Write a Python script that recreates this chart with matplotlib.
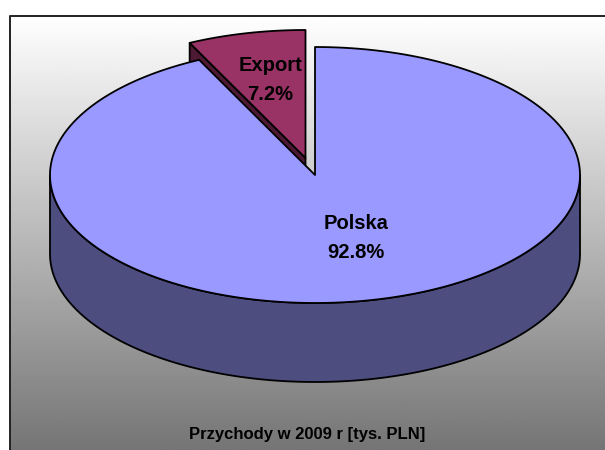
import numpy as np
import matplotlib
matplotlib.use("Agg")
import matplotlib.pyplot as plt

categories = ["Polska", "Export"]
shares = [92.8, 7.2]
title = "Przychody w 2009 r [tys. PLN]"

plt.rcParams["font.family"] = ["Liberation Sans", "DejaVu Sans"]

# pie geometry in pixels
cx, cy = 315, 175
rx, ry = 265, 128
depth = 79
ex_dx, ex_dy = -9.5, -17


def arc(a0, a1, dx=0, dy=0):
    # angles clockwise from 12 o'clock, in degrees
    t = np.radians(np.linspace(a0, a1, 300))
    return cx + dx + rx * np.sin(t), cy + dy - ry * np.cos(t)


fig = plt.figure(figsize=(6.05, 4.5), dpi=100)
ax = fig.add_axes([0, 0, 1, 1])
ax.set_xlim(0, 605)
ax.set_ylim(450, 0)
ax.axis("off")

# frame with grey gradient, open on the right and at the bottom
grad = np.linspace(1, 0.46, 256).reshape(-1, 1)
ax.imshow(grad, extent=[10, 605, 450, 15], cmap="gray", vmin=0, vmax=1, aspect="auto", zorder=1)
ax.plot([10, 10, 605], [450, 15.5, 15.5], color="#222222", lw=1.4, zorder=2)
ax.set_xlim(0, 605)
ax.set_ylim(450, 0)

polska_end = shares[0] / 100 * 360
line = dict(edgecolor="black", linewidth=1.3, joinstyle="round")

# side wall of the big slice (front half only)
x, y = arc(90, 270)
ax.fill(np.r_[x, x[::-1]], np.r_[y, y[::-1] + depth], facecolor="#4D4D80", zorder=3, **line)

# exploded slice: the wall goes behind the big slice
x, y = arc(polska_end, 360, ex_dx, ex_dy)
ex_cx, ex_cy = cx + ex_dx, cy + ex_dy
ax.fill([ex_cx, x[0], x[0], ex_cx], [ex_cy, y[0], y[0] + depth, ex_cy + depth],
        facecolor="#4D1933", zorder=4, **line)
ax.fill(np.r_[ex_cx, x], np.r_[ex_cy, y], facecolor="#993366", zorder=5, **line)

# top of the big slice
x, y = arc(0, polska_end)
ax.fill(np.r_[cx, x], np.r_[cy, y], facecolor="#9999FF", zorder=6, **line)

ax.text(356, 238, f"{categories[0]}\n{shares[0]}%", ha="center", va="center", fontsize=14.5,
        fontweight="bold", linespacing=1.73, zorder=7)
ax.text(270, 80, f"{categories[1]}\n{shares[1]}%", ha="center", va="center", fontsize=14.5,
        fontweight="bold", linespacing=1.73, zorder=7)
ax.text(307, 435, title, ha="center", va="center", fontsize=12, fontweight="bold", zorder=7)

fig.savefig("out.png", dpi=100)
